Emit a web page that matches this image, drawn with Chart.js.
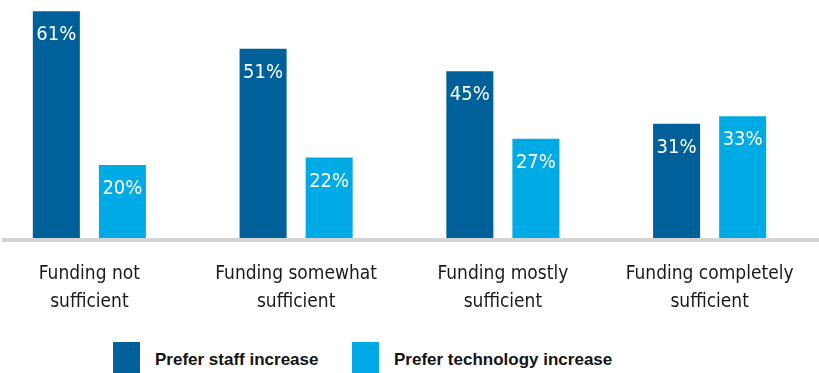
<!DOCTYPE html>
<html>
<head>
<meta charset="utf-8">
<script src="https://cdn.jsdelivr.net/npm/chart.js@4"></script>
<style>
  html, body { margin: 0; padding: 0; background: #fff; overflow: hidden; }
  #wrap { position: relative; width: 819px; height: 373px; }
  #chart { position: absolute; left: -14px; top: 0; }
  #legend { position: absolute; left: 113px; top: 342px; height: 31px; }
  .item { position: absolute; top: 0; height: 31px; }
  .box { position: absolute; left: 0; top: 0; width: 27px; height: 31px; }
  .txt {
    position: absolute; left: 42px; top: 2px; white-space: nowrap;
    font: bold 17px/31px "Liberation Sans", Arial, sans-serif; color: #141414;
  }
</style>
</head>
<body>
<div id="wrap">
  <canvas id="chart" width="837" height="336"></canvas>
  <div id="legend"></div>
</div>
<script>
const categories = [
  ["Funding not", "sufficient"],
  ["Funding somewhat", "sufficient"],
  ["Funding mostly", "sufficient"],
  ["Funding completely", "sufficient"]
];
const seriesNames = ["Prefer staff increase", "Prefer technology increase"];
const staffValues = [61, 51, 45, 31];
const techValues = [20, 22, 27, 33];

const DARK = "#00609A";
const LIGHT = "#00ABE5";
const NARROW = '"DejaVu Sans Condensed", "Liberation Sans Narrow", sans-serif';

// grey zero line running the full width, drawn over the bar feet
const baseline = {
  id: "baseline",
  afterDatasetsDraw(chart) {
    const ctx = chart.ctx;
    const y = chart.scales.y.getPixelForValue(0);
    ctx.save();
    ctx.fillStyle = "#d4d4d4";
    ctx.fillRect(16, y - 2, chart.width - 16, 4);
    ctx.restore();
  }
};

// white percentage labels sitting inside the top of each bar
const valueLabels = {
  id: "valueLabels",
  afterDatasetsDraw(chart) {
    const ctx = chart.ctx;
    ctx.save();
    ctx.fillStyle = "#fff";
    ctx.font = "20px " + NARROW;
    ctx.textAlign = "center";
    ctx.textBaseline = "middle";
    chart.data.datasets.forEach((ds, i) => {
      chart.getDatasetMeta(i).data.forEach((bar, j) => {
        ctx.fillText(ds.data[j] + "%", bar.x, bar.y + 24);
      });
    });
    ctx.restore();
  }
};

const chart = new Chart(document.getElementById("chart"), {
  type: "bar",
  data: {
    labels: categories,
    datasets: [
      { label: seriesNames[0], data: staffValues, backgroundColor: DARK },
      { label: seriesNames[1], data: techValues, backgroundColor: LIGHT }
    ]
  },
  options: {
    responsive: false,
    animation: false,
    devicePixelRatio: 1,
    layout: { padding: { right: 10 } },
    categoryPercentage: 0.639,
    barPercentage: 0.712,
    plugins: {
      legend: { display: false },
      tooltip: { enabled: false }
    },
    scales: {
      x: {
        grid: { display: false, drawTicks: false },
        border: { display: false },
        ticks: {
          color: "#1a1a1a",
          padding: 20,
          maxRotation: 0,
          autoSkip: false,
          font: { family: NARROW, size: 19, lineHeight: "28px" }
        }
      },
      y: {
        display: false,
        min: 0,
        max: 64
      }
    }
  },
  plugins: [baseline, valueLabels]
});

// legend row under the chart
const legend = document.getElementById("legend");
const legendLeft = [0, 239];
seriesNames.forEach((name, i) => {
  const item = document.createElement("div");
  item.className = "item";
  item.style.left = legendLeft[i] + "px";
  const box = document.createElement("div");
  box.className = "box";
  box.style.background = i === 0 ? DARK : LIGHT;
  const txt = document.createElement("div");
  txt.className = "txt";
  txt.textContent = name;
  item.appendChild(box);
  item.appendChild(txt);
  legend.appendChild(item);
});
</script>
</body>
</html>
